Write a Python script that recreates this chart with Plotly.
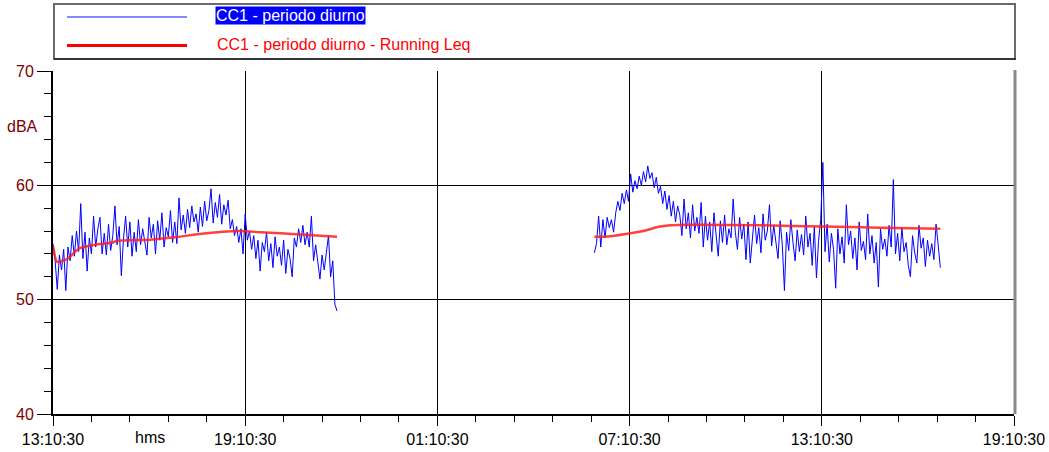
import plotly.graph_objects as go
import pandas as pd

# ---------------- data ----------------
day1 = "2000-01-01"
day2 = "2000-01-02"
axis_start = "13:10:30"
axis_end = "19:10:30"

# blue series: short Leq samples (dBA), one value every 4 minutes
seg1_start = "13:10:30"
seg2_start = "06:04:30"
sample_step = "4min"

seg1_leq = [
    54.9, 53.4, 50.9, 53.9, 52.6, 54.4, 50.8, 54.6, 53.4, 55.6,
    53.8, 56.0, 54.2, 58.4, 53.6, 55.9, 52.5, 55.4, 54.0, 57.3,
    54.6, 56.2, 57.2, 54.0, 55.8, 53.9, 56.6, 54.3, 55.6, 58.2,
    54.8, 56.4, 52.1, 55.3, 57.3, 54.6, 56.8, 53.8, 55.9, 54.2,
    57.0, 54.8, 56.2, 55.0, 53.9, 57.2, 55.4, 56.6, 54.0, 56.9,
    55.2, 57.6, 54.6, 56.3, 55.5, 57.8, 55.0, 56.8, 54.9, 58.9,
    56.1, 57.4, 55.8, 57.9, 56.3, 58.2, 56.8, 57.5, 55.9, 58.1,
    56.4, 58.6, 56.9, 57.8, 59.7, 56.7, 58.5, 57.2, 59.2, 56.6,
    58.3, 57.4, 58.7, 56.2, 57.0, 55.6, 56.4, 55.0, 56.2, 54.0,
    57.5, 55.2, 56.0, 54.4, 55.6, 53.6, 55.2, 52.5, 55.0, 54.2,
    55.9, 53.4, 54.9, 52.8, 55.5, 53.8, 54.6, 53.0, 55.2, 52.3,
    54.4, 53.6, 52.0, 55.4, 54.6, 56.2, 55.0, 56.5, 54.8, 55.9,
    54.6, 57.3, 53.4, 54.8, 53.0, 51.8, 53.9, 52.6, 54.1, 55.6,
    52.0, 53.4, 49.6, 49.0,
]

seg2_leq = [
    54.1, 54.9, 57.3, 54.6, 57.0, 55.4, 57.2, 56.3, 57.0, 55.9,
    57.6, 58.6, 57.8, 59.3, 58.4, 59.6, 58.6, 61.0, 59.4, 60.4,
    59.7, 60.8, 60.0, 61.2, 60.3, 61.7, 60.6, 61.1, 59.8, 60.7,
    59.3, 59.9, 58.4, 59.5, 57.9, 59.1, 57.3, 58.6, 56.8, 58.2,
    57.4, 55.6, 58.8, 56.2, 57.6, 55.4, 58.3, 56.0, 57.2, 55.8,
    58.5, 54.6, 57.3, 55.2, 56.8, 54.2, 57.6, 55.6, 53.8, 56.9,
    55.0, 57.4, 54.8, 56.2, 55.4, 58.8, 55.9, 54.4, 57.2, 55.3,
    56.6, 53.5, 56.8, 53.2, 55.6, 57.4, 54.9, 56.3, 54.1, 57.5,
    55.2, 56.0, 58.3, 54.7, 56.5, 55.1, 53.6, 56.9, 54.8, 50.8,
    55.9, 54.3, 57.0, 55.0, 53.4, 56.1, 54.2, 55.7, 53.9, 57.3,
    54.6, 55.8, 53.0, 56.4, 51.9, 55.2, 57.0, 62.0, 54.2, 56.6,
    53.3, 55.8, 54.4, 51.0, 56.2, 54.0, 55.5, 53.2, 58.3, 54.8,
    56.0, 53.6, 55.4, 52.6, 56.8, 54.3, 55.1, 53.5, 57.5, 54.0,
    55.6, 53.2, 55.0, 51.1, 56.2, 54.4, 55.3, 53.8, 56.5, 54.6,
    60.5, 54.0, 55.8, 53.4, 56.3, 54.2, 55.0, 53.0, 52.0, 55.6,
    54.1, 53.2, 56.5, 54.5, 55.4, 52.9, 55.2, 53.8, 54.9, 53.5,
    56.6, 54.8, 52.8,
]

# red series: running Leq (dBA)
run1_times = ["13:10:30", "13:18:00", "13:28:30", "13:38:30", "13:52:00",
              "14:01:00", "14:29:00", "15:03:00", "15:10:30", "16:12:00",
              "16:59:00", "17:37:00", "18:29:00", "19:01:00", "19:39:00",
              "20:54:00", "22:02:30"]
run1_leq = [54.7, 53.3, 53.4, 53.6, 54.2,
            54.5, 54.8, 55.0, 55.15, 55.25,
            55.45, 55.7, 55.95, 56.0, 55.9,
            55.7, 55.5]

run2_times = ["06:04:30", "06:35:00", "07:12:00", "07:40:00", "08:03:00",
              "08:27:00", "09:05:00", "11:16:00", "13:12:00", "15:01:00",
              "16:52:30"]
run2_leq = [55.5, 55.55, 55.8, 56.05, 56.35,
            56.5, 56.55, 56.5, 56.4, 56.3,
            56.2]

legend_labels = ["CC1 - periodo diurno", "CC1 - periodo diurno - Running Leq"]
y_label = "dBA"
x_label = "hms"

# ---------------- layout helpers ----------------
W, H = 1049, 452
ML, MR, MT, MB = 53, 35, 71, 38
PW, PH = W - ML - MR, H - MT - MB


def px(x):
    return (x - ML) / PW


def py(y):
    return (H - MB - y) / PH


FONT = "Liberation Sans, Arial, sans-serif"
DARKRED = "#800000"

seg1_x = pd.date_range(f"{day1} {seg1_start}", periods=len(seg1_leq), freq=sample_step)
seg2_x = pd.date_range(f"{day2} {seg2_start}", periods=len(seg2_leq), freq=sample_step)
run1_x = pd.to_datetime([f"{day1} {t}" for t in run1_times])
run2_x = pd.to_datetime([f"{day2} {t}" for t in run2_times])

fig = go.Figure()
for xs, ys in ((seg1_x, seg1_leq), (seg2_x, seg2_leq)):
    fig.add_trace(go.Scatter(x=xs, y=ys, mode="lines", name=legend_labels[0],
                             line=dict(color="#0000ff", width=1), showlegend=False))
for xs, ys in ((run1_x, run1_leq), (run2_x, run2_leq)):
    fig.add_trace(go.Scatter(x=xs, y=ys, mode="lines", name=legend_labels[1],
                             line=dict(color="rgba(255,30,30,0.85)", width=2.5, shape="spline", smoothing=0.6),
                             showlegend=False))

x0 = f"{day1} {axis_start}"
x1 = f"{day2} {axis_end}"

fig.update_layout(
    width=W, height=H, autosize=False,
    margin=dict(l=ML, r=MR, t=MT, b=MB, pad=0),
    paper_bgcolor="white", plot_bgcolor="white",
    font=dict(family=FONT, size=16, color="black"),
    showlegend=False,
    xaxis=dict(
        type="date", range=[x0, x1], tick0=x0, dtick=6 * 3600 * 1000, automargin=False,
        tickformat="%H:%M:%S", showgrid=True, gridcolor="black", gridwidth=1,
        ticks="outside", ticklen=10, tickwidth=1, tickcolor="black",
        showline=True, linecolor="black", linewidth=2, zeroline=False,
        tickfont=dict(family=FONT, size=16, color="black"),
        minor=dict(tick0=x0, dtick=72 * 60 * 1000, ticks="outside", ticklen=6,
                   tickwidth=1, tickcolor="black", showgrid=False),
    ),
    yaxis=dict(
        range=[40, 70], tick0=40, dtick=10, automargin=False,
        showgrid=True, gridcolor="black", gridwidth=1,
        ticks="outside", ticklen=14, tickwidth=1, tickcolor="black",
        showline=True, linecolor="black", linewidth=2, zeroline=False,
        tickfont=dict(family=FONT, size=16, color=DARKRED),
        minor=dict(tick0=40, dtick=2, ticks="outside", ticklen=7, tickwidth=1,
                   tickcolor="black", showgrid=False),
    ),
)

shapes = [
    # right border of the plot frame
    dict(type="line", xref="paper", yref="paper", x0=px(1015), x1=px(1015), y0=py(414), y1=py(70),
         line=dict(color="#8a8a8a", width=3)),
    # legend frame
    dict(type="rect", xref="paper", yref="paper", x0=px(54), x1=px(1015), y0=py(59), y1=py(4),
         line=dict(color="#6a6a6a", width=2), fillcolor="white", layer="below"),
    dict(type="line", xref="paper", yref="paper", x0=px(54), x1=px(1016), y0=py(59), y1=py(59),
         line=dict(color="black", width=1)),
    # legend samples
    dict(type="line", xref="paper", yref="paper", x0=px(67), x1=px(187), y0=py(17), y1=py(17),
         line=dict(color="#6060ff", width=1.5)),
    dict(type="line", xref="paper", yref="paper", x0=px(67), x1=px(187), y0=py(45.5), y1=py(45.5),
         line=dict(color="#ff0000", width=3)),
]
fig.update_layout(shapes=shapes)

annotations = [
    dict(text=legend_labels[0], x=px(215), y=py(15), xref="paper", yref="paper",
         xanchor="left", yanchor="middle", showarrow=False, bgcolor="#0000ff", borderpad=0,
         font=dict(family=FONT, size=16, color="white")),
    dict(text=legend_labels[1], x=px(215), y=py(44), xref="paper", yref="paper",
         xanchor="left", yanchor="middle", showarrow=False,
         font=dict(family=FONT, size=16, color="#ff0000")),
    dict(text=y_label, x=px(22), y=py(127), xref="paper", yref="paper",
         xanchor="center", yanchor="middle", showarrow=False,
         font=dict(family=FONT, size=16, color=DARKRED)),
    dict(text=x_label, x=px(150), y=py(437), xref="paper", yref="paper",
         xanchor="center", yanchor="middle", showarrow=False,
         font=dict(family=FONT, size=16, color="black")),
]
fig.update_layout(annotations=annotations)

fig.write_html(
    "out.html",
    config={"displayModeBar": False, "responsive": False},
    post_script=(
        "document.body.style.margin='0';"
        "document.body.style.overflow='hidden';"
    ),
)
